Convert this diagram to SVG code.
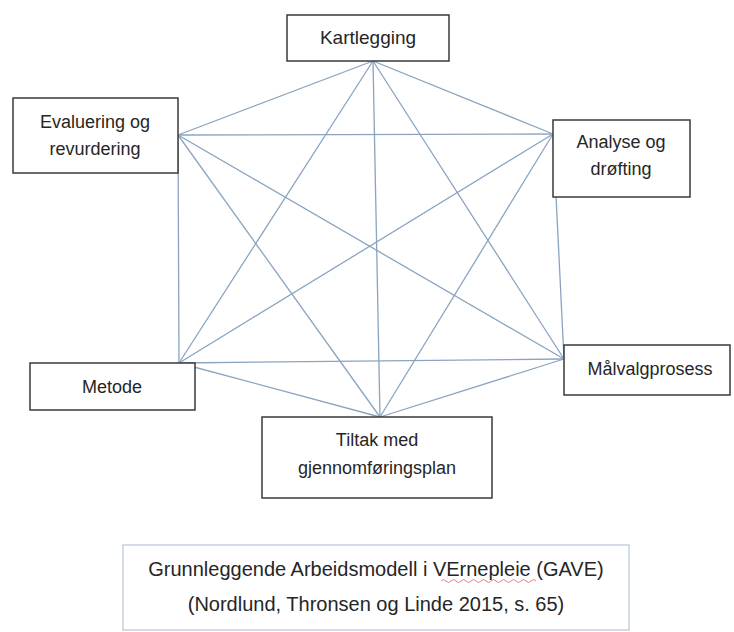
<svg xmlns="http://www.w3.org/2000/svg" width="734" height="632" viewBox="0 0 734 632">
<style>
.c{stroke:#8aa4c0;stroke-width:1.3;fill:none}
.b{fill:#fff;stroke:#3a3a3a;stroke-width:1.5}
.t{font-family:"Liberation Sans",Arial,sans-serif;font-size:18px;fill:#262626;text-anchor:middle}
.k{font-size:19px}
.ct{font-size:20px}
.cap{fill:#fff;stroke:#a9bccf;stroke-width:1}
</style>
<rect width="734" height="632" fill="#fff"/>
<g id="connectors">
<line class="c" x1="373" y1="61" x2="178" y2="135"/>
<line class="c" x1="373" y1="61" x2="553" y2="134"/>
<line class="c" x1="373" y1="61" x2="179" y2="363"/>
<line class="c" x1="373" y1="61" x2="564" y2="359"/>
<line class="c" x1="373" y1="61" x2="380" y2="417"/>
<line class="c" x1="178" y1="135" x2="553" y2="134"/>
<line class="c" x1="178" y1="135" x2="179" y2="363"/>
<line class="c" x1="178" y1="135" x2="564" y2="359"/>
<line class="c" x1="178" y1="135" x2="380" y2="417"/>
<line class="c" x1="553" y1="134" x2="179" y2="363"/>
<line class="c" x1="553" y1="134" x2="564" y2="359"/>
<line class="c" x1="553" y1="134" x2="380" y2="417"/>
<line class="c" x1="179" y1="363" x2="564" y2="359"/>
<line class="c" x1="179" y1="363" x2="380" y2="417"/>
<line class="c" x1="564" y1="359" x2="380" y2="417"/>
</g>
<g id="kartlegging">
<rect class="b" x="287" y="15" width="162" height="46"/>
<text class="t k" x="368" y="44">Kartlegging</text>
</g>
<g id="evaluering">
<rect class="b" x="13" y="98" width="165" height="75"/>
<text class="t" x="95" y="128">Evaluering og</text>
<text class="t" x="95" y="155">revurdering</text>
</g>
<g id="analyse">
<rect class="b" x="553" y="120" width="137" height="77"/>
<text class="t" x="621" y="148">Analyse og</text>
<text class="t" x="621" y="175">drøfting</text>
</g>
<g id="metode">
<rect class="b" x="30" y="363" width="165" height="47"/>
<text class="t" x="112" y="393">Metode</text>
</g>
<g id="malvalg">
<rect class="b" x="564" y="345" width="166" height="50"/>
<text class="t" x="650" y="375">Målvalgprosess</text>
</g>
<g id="tiltak">
<rect class="b" x="262" y="417" width="230" height="81"/>
<text class="t" x="377" y="446">Tiltak med</text>
<text class="t" x="377" y="474">gjennomføringsplan</text>
</g>
<g id="caption">
<rect class="cap" x="123" y="545" width="506" height="85"/>
<text class="t ct" x="376" y="576">Grunnleggende Arbeidsmodell i VErnepleie (GAVE)</text>
<text class="t ct" x="376" y="611">(Nordlund, Thronsen og Linde 2015, s. 65)</text>
<path d="M441 581 q2.5 -3 5 0 t5 0 t5 0 t5 0 t5 0 t5 0 t5 0 t5 0 t5 0 t5 0 t5 0 t5 0 t5 0 t5 0 t5 0 t5 0 t5 0 t5 0 t5 0" fill="none" stroke="#e06060" stroke-width="0.8"/>
</g>
</svg>
